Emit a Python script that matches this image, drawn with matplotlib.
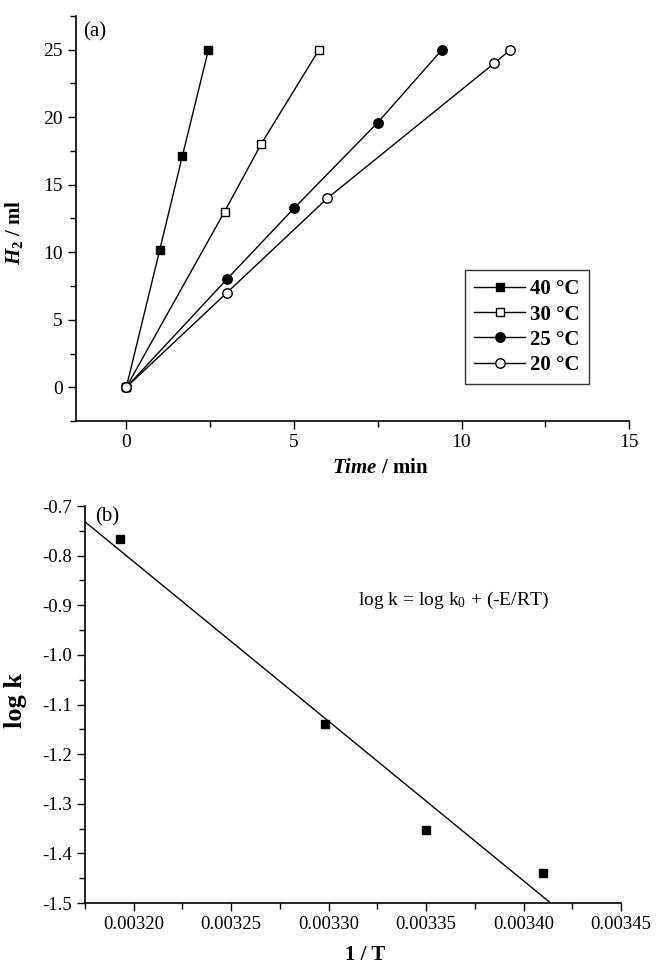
import numpy as np
import matplotlib
matplotlib.use('Agg')
import matplotlib.pyplot as plt
from matplotlib.ticker import MultipleLocator, FormatStrFormatter

plt.rcParams['font.family'] = 'Liberation Serif'
plt.rcParams['mathtext.fontset'] = 'custom'
plt.rcParams['mathtext.it'] = 'Liberation Serif:italic:bold'
plt.rcParams['mathtext.rm'] = 'Liberation Serif'

# (a) hydrogen volume vs time
t40 = [0, 1.0, 1.67, 2.45]
h40 = [0, 10.2, 17.1, 25]
t30 = [0, 2.93, 4.02, 5.75]
h30 = [0, 13.0, 18.0, 25]
t25 = [0, 3.0, 5.0, 7.5, 9.42]
h25 = [0, 8.0, 13.25, 19.6, 25]
t20 = [0, 3.0, 6.0, 10.98, 11.46]
h20 = [0, 7.0, 14.0, 24.0, 25]
labels = ['40 °C', '30 °C', '25 °C', '20 °C']

# (b) Arrhenius
inv_T = [0.003193, 0.003298, 0.00335, 0.00341]
log_k = [-0.767, -1.140, -1.353, -1.439]

fig = plt.figure(figsize=(6.56, 9.65), dpi=100)

ax1 = fig.add_axes([0.1159, 0.5637, 0.8431, 0.4198])
series = [(t40, h40, 's', 'black'), (t30, h30, 's', 'white'),
          (t25, h25, 'o', 'black'), (t20, h20, 'o', 'white')]
for (t, h, m, fc), lab in zip(series, labels):
    ms = 5.5 if m == 's' else 6.8
    ax1.plot(t, h, color='black', lw=1, marker=m, ms=ms, mfc=fc, mec='black',
             mew=1, label=lab)
ax1.set_xlim(-1.5, 15)
ax1.set_ylim(-2.5, 27.5)
ax1.xaxis.set_major_locator(MultipleLocator(5))
ax1.xaxis.set_minor_locator(MultipleLocator(2.5))
ax1.yaxis.set_major_locator(MultipleLocator(5))
ax1.yaxis.set_minor_locator(MultipleLocator(2.5))
ax1.tick_params(which='both', direction='out', width=1, labelsize=14)
ax1.tick_params(which='major', length=6)
ax1.tick_params(which='minor', length=4)
ax1.set_xlabel(r'$\it{Time}$ / min', fontsize=15, fontweight='bold')
ax1.set_ylabel(r'$\it{H}_\mathregular{2}$ / ml', fontsize=15, fontweight='bold')
ax1.xaxis.set_label_coords(0.55, -0.092)
ax1.yaxis.set_label_coords(-0.092, 0.467)
ax1.text(0.013, 0.985, '(a)', transform=ax1.transAxes, fontsize=15, va='top')
leg = ax1.legend(loc='upper left', bbox_to_anchor=(0.703, 0.373),
                 borderaxespad=0, fancybox=False, edgecolor='black',
                 prop={'weight': 'bold', 'size': 15}, handlelength=2.45,
                 borderpad=0.45, labelspacing=0.25, handletextpad=0.25)
leg.get_frame().set_linewidth(1)

ax2 = fig.add_axes([0.1296, 0.0642, 0.8171, 0.4114])
ax2.plot(inv_T, log_k, 's', color='black', ms=6)
slope, icpt = np.polyfit(inv_T, log_k, 1)
xl = np.array([0.003175, 0.00345])
ax2.plot(xl, slope * xl + icpt, color='black', lw=1)
ax2.set_xlim(0.003175, 0.00345)
ax2.set_ylim(-1.5, -0.7)
ax2.xaxis.set_major_locator(MultipleLocator(0.00005))
ax2.xaxis.set_minor_locator(MultipleLocator(0.000025))
ax2.xaxis.set_major_formatter(FormatStrFormatter('%.5f'))
ax2.yaxis.set_major_locator(MultipleLocator(0.1))
ax2.yaxis.set_minor_locator(MultipleLocator(0.05))
ax2.yaxis.set_major_formatter(FormatStrFormatter('%.1f'))
ax2.tick_params(which='both', direction='out', width=1, labelsize=13.5)
ax2.tick_params(which='major', length=6)
ax2.tick_params(which='minor', length=4)
ax2.set_xlabel('1 / T', fontsize=15, fontweight='bold')
ax2.set_ylabel('log k', fontsize=19, fontweight='bold')
ax2.xaxis.set_label_coords(0.522, -0.105)
ax2.yaxis.set_label_coords(-0.108, 0.51)
ax2.text(0.018, 0.998, '(b)', transform=ax2.transAxes, fontsize=15, va='top')
ax2.text(0.003315, -0.89, r'log k = log k$_\mathregular{0}$ + (-E/RT)', fontsize=14,
         va='center')

for ax in (ax1, ax2):
    ax.spines['top'].set_visible(False)
    ax.spines['right'].set_visible(False)
    for s in ('left', 'bottom'):
        ax.spines[s].set_linewidth(1.2)

fig.savefig('out.png', dpi=100)
